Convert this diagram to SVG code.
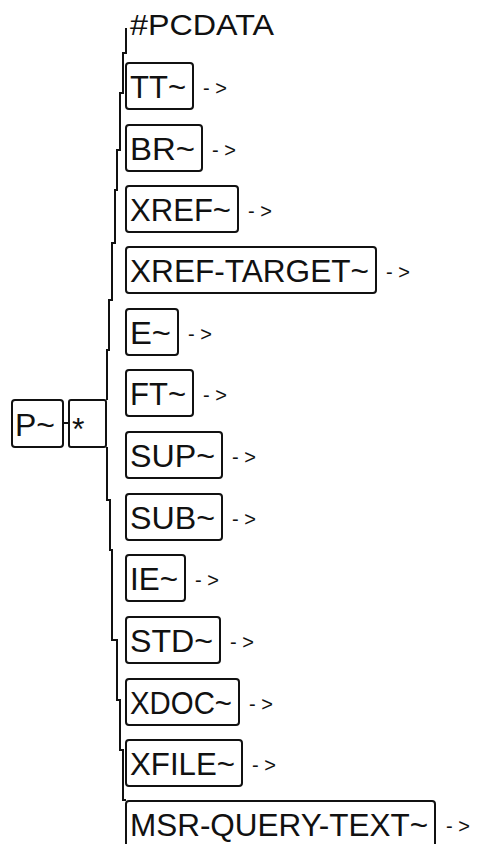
<svg xmlns="http://www.w3.org/2000/svg" width="477" height="844" viewBox="0 0 477 844">
<style>
.box{fill:#fff;stroke:#111;stroke-width:2}
.lbl{font-family:"Liberation Sans",Arial,sans-serif;font-size:32px;fill:#111}
.pc{font-family:"Liberation Sans",Arial,sans-serif;font-size:29px;fill:#111}
.arr{font-family:"Liberation Sans",Arial,sans-serif;font-size:20px;fill:#111}
.con{fill:none;stroke:#111;stroke-width:2}
</style>
<rect width="477" height="844" fill="#fff"/>
<g id="connectors">
<polyline class="con" points="126,28 126,53 123,53 123,93 120,93 120,150 117,150 117,190 115,190 115,243 112,243 112,300 109,300 109,350 107,350 107,400"/>
<polyline class="con" points="107,447 107,500 110,500 110,550 112,550 112,640 117,640 117,700 120,700 120,750 123,750 123,800 126,800"/>
<line class="con" x1="63" y1="423" x2="69" y2="423"/>
</g>
<g id="P">
<rect class="box" x="12" y="400" width="51" height="47" rx="3"/>
<text class="lbl" x="15" y="436" textLength="40" lengthAdjust="spacingAndGlyphs">P~</text>
</g>
<g id="seq">
<rect class="box" x="69" y="400" width="37" height="47" rx="2"/>
<text class="lbl" x="72" y="440">*</text>
</g>
<g id="PCDATA">
<text class="pc" x="130" y="35" textLength="144" lengthAdjust="spacingAndGlyphs">#PCDATA</text>
</g>
<g id="TT">
<rect class="box" x="126" y="63" width="67" height="46" rx="3"/>
<text class="lbl" x="130" y="98" textLength="56" lengthAdjust="spacingAndGlyphs">TT~</text>
<text class="arr" x="203" y="95" textLength="24" lengthAdjust="spacing">-&gt;</text>
</g>
<g id="BR">
<rect class="box" x="126" y="125" width="76" height="46" rx="3"/>
<text class="lbl" x="130" y="160" textLength="65" lengthAdjust="spacingAndGlyphs">BR~</text>
<text class="arr" x="212" y="157" textLength="24" lengthAdjust="spacing">-&gt;</text>
</g>
<g id="XREF">
<rect class="box" x="126" y="186" width="112" height="46" rx="3"/>
<text class="lbl" x="130" y="221" textLength="101" lengthAdjust="spacingAndGlyphs">XREF~</text>
<text class="arr" x="248" y="218" textLength="24" lengthAdjust="spacing">-&gt;</text>
</g>
<g id="XREF-TARGET">
<rect class="box" x="126" y="247" width="250" height="46" rx="3"/>
<text class="lbl" x="130" y="282" textLength="239" lengthAdjust="spacingAndGlyphs">XREF-TARGET~</text>
<text class="arr" x="386" y="279" textLength="24" lengthAdjust="spacing">-&gt;</text>
</g>
<g id="E">
<rect class="box" x="126" y="309" width="52" height="46" rx="3"/>
<text class="lbl" x="130" y="344" textLength="41" lengthAdjust="spacingAndGlyphs">E~</text>
<text class="arr" x="188" y="341" textLength="24" lengthAdjust="spacing">-&gt;</text>
</g>
<g id="FT">
<rect class="box" x="126" y="370" width="67" height="46" rx="3"/>
<text class="lbl" x="130" y="405" textLength="56" lengthAdjust="spacingAndGlyphs">FT~</text>
<text class="arr" x="203" y="402" textLength="24" lengthAdjust="spacing">-&gt;</text>
</g>
<g id="SUP">
<rect class="box" x="126" y="432" width="96" height="46" rx="3"/>
<text class="lbl" x="130" y="467" textLength="85" lengthAdjust="spacingAndGlyphs">SUP~</text>
<text class="arr" x="232" y="464" textLength="24" lengthAdjust="spacing">-&gt;</text>
</g>
<g id="SUB">
<rect class="box" x="126" y="494" width="96" height="46" rx="3"/>
<text class="lbl" x="130" y="529" textLength="85" lengthAdjust="spacingAndGlyphs">SUB~</text>
<text class="arr" x="232" y="526" textLength="24" lengthAdjust="spacing">-&gt;</text>
</g>
<g id="IE">
<rect class="box" x="126" y="555" width="59" height="46" rx="3"/>
<text class="lbl" x="130" y="590" textLength="48" lengthAdjust="spacingAndGlyphs">IE~</text>
<text class="arr" x="195" y="587" textLength="24" lengthAdjust="spacing">-&gt;</text>
</g>
<g id="STD">
<rect class="box" x="126" y="617" width="94" height="46" rx="3"/>
<text class="lbl" x="130" y="652" textLength="83" lengthAdjust="spacingAndGlyphs">STD~</text>
<text class="arr" x="230" y="649" textLength="24" lengthAdjust="spacing">-&gt;</text>
</g>
<g id="XDOC">
<rect class="box" x="126" y="679" width="113" height="46" rx="3"/>
<text class="lbl" x="130" y="714" textLength="102" lengthAdjust="spacingAndGlyphs">XDOC~</text>
<text class="arr" x="249" y="711" textLength="24" lengthAdjust="spacing">-&gt;</text>
</g>
<g id="XFILE">
<rect class="box" x="126" y="740" width="116" height="46" rx="3"/>
<text class="lbl" x="130" y="775" textLength="105" lengthAdjust="spacingAndGlyphs">XFILE~</text>
<text class="arr" x="252" y="772" textLength="24" lengthAdjust="spacing">-&gt;</text>
</g>
<g id="MSR-QUERY-TEXT">
<rect class="box" x="126" y="801" width="309" height="46" rx="3"/>
<text class="lbl" x="130" y="836" textLength="298" lengthAdjust="spacingAndGlyphs">MSR-QUERY-TEXT~</text>
<text class="arr" x="446" y="833" textLength="24" lengthAdjust="spacing">-&gt;</text>
</g>
</svg>
